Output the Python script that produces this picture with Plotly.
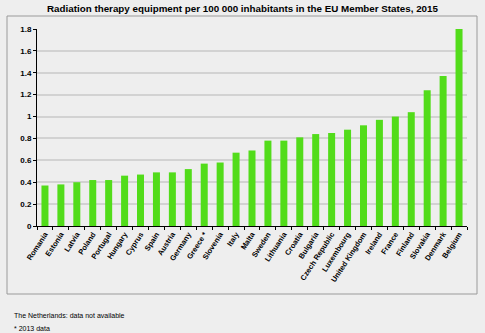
import plotly.graph_objects as go

countries = ["Romania", "Estonia", "Latvia", "Poland", "Portugal", "Hungary", "Cyprus", "Spain",
             "Austria", "Germany", "Greece *", "Slovenia", "Italy", "Malta", "Sweden", "Lithuania",
             "Croatia", "Bulgaria", "Czech Republic", "Luxembourg", "United Kingdom", "Ireland",
             "France", "Finland", "Slovakia", "Denmark", "Belgium"]
values = [0.37, 0.38, 0.40, 0.42, 0.42, 0.46, 0.47, 0.49, 0.49, 0.52, 0.57, 0.58, 0.67, 0.69,
          0.78, 0.78, 0.81, 0.84, 0.85, 0.88, 0.92, 0.97, 1.00, 1.04, 1.24, 1.37, 1.81]
yticks = [0, 0.2, 0.4, 0.6, 0.8, 1, 1.2, 1.4, 1.6, 1.8]
ytick_text = ["0", "0.2", "0.4", "0.6", "0.8", "1", "1.2", "1.4", "1.6", "1.8"]

W, H = 485, 333
fig = go.Figure(go.Bar(x=countries, y=values, marker=dict(color="#52dc1a", line=dict(width=0))))

fig.update_layout(
    width=W, height=H,
    paper_bgcolor="#eeeeee", plot_bgcolor="#eeeeee",
    margin=dict(l=37, r=18, t=29, b=107),
    bargap=0.56,
    showlegend=False,
    font=dict(family="Liberation Sans, Arial, sans-serif", color="black"),
    title=dict(text="<b>Radiation therapy equipment per 100 000 inhabitants in the EU Member States, 2015</b>",
               x=0.5, xanchor="center", y=1 - 9 / H, yanchor="middle",
               font=dict(size=9.8, color="black")),
)
fig.update_yaxes(range=[0, 1.8], tickvals=yticks, ticktext=ytick_text,
                 showgrid=True, gridcolor="#d2d2d2", gridwidth=1.5,
                 showline=True, linecolor="black", linewidth=1,
                 ticks="outside", ticklen=3, tickcolor="black",
                 tickfont=dict(size=8, color="black", weight="bold"), zeroline=False)
fig.update_xaxes(range=[-0.5, 26.5], tickangle=-57,
                 showline=True, linecolor="black", linewidth=1,
                 ticks="outside", ticklen=3, tickcolor="black", tickson="boundaries",
                 tickfont=dict(size=7.5, color="black", weight="bold"), showgrid=False)

# outer border box
fig.add_shape(type="rect", xref="paper", yref="paper",
              x0=-30 / 430, x1=1 + 10 / 430, y0=(H - 294 - 107) / (H - 29 - 107), y1=1 + 13 / 197,
              line=dict(color="#9a9a9a", width=1), fillcolor="rgba(0,0,0,0)", layer="below")

fig.add_annotation(text="The Netherlands: data not available", xref="paper", yref="paper",
                   x=-25 / 430, y=(H - 315 - 107) / (H - 29 - 107), xanchor="left", yanchor="middle",
                   showarrow=False, font=dict(size=7, color="black"))
fig.add_annotation(text="* 2013 data", xref="paper", yref="paper",
                   x=-25 / 430, y=(H - 328 - 107) / (H - 29 - 107), xanchor="left", yanchor="middle",
                   showarrow=False, font=dict(size=7, color="black"))

fig.write_html("out.html")
